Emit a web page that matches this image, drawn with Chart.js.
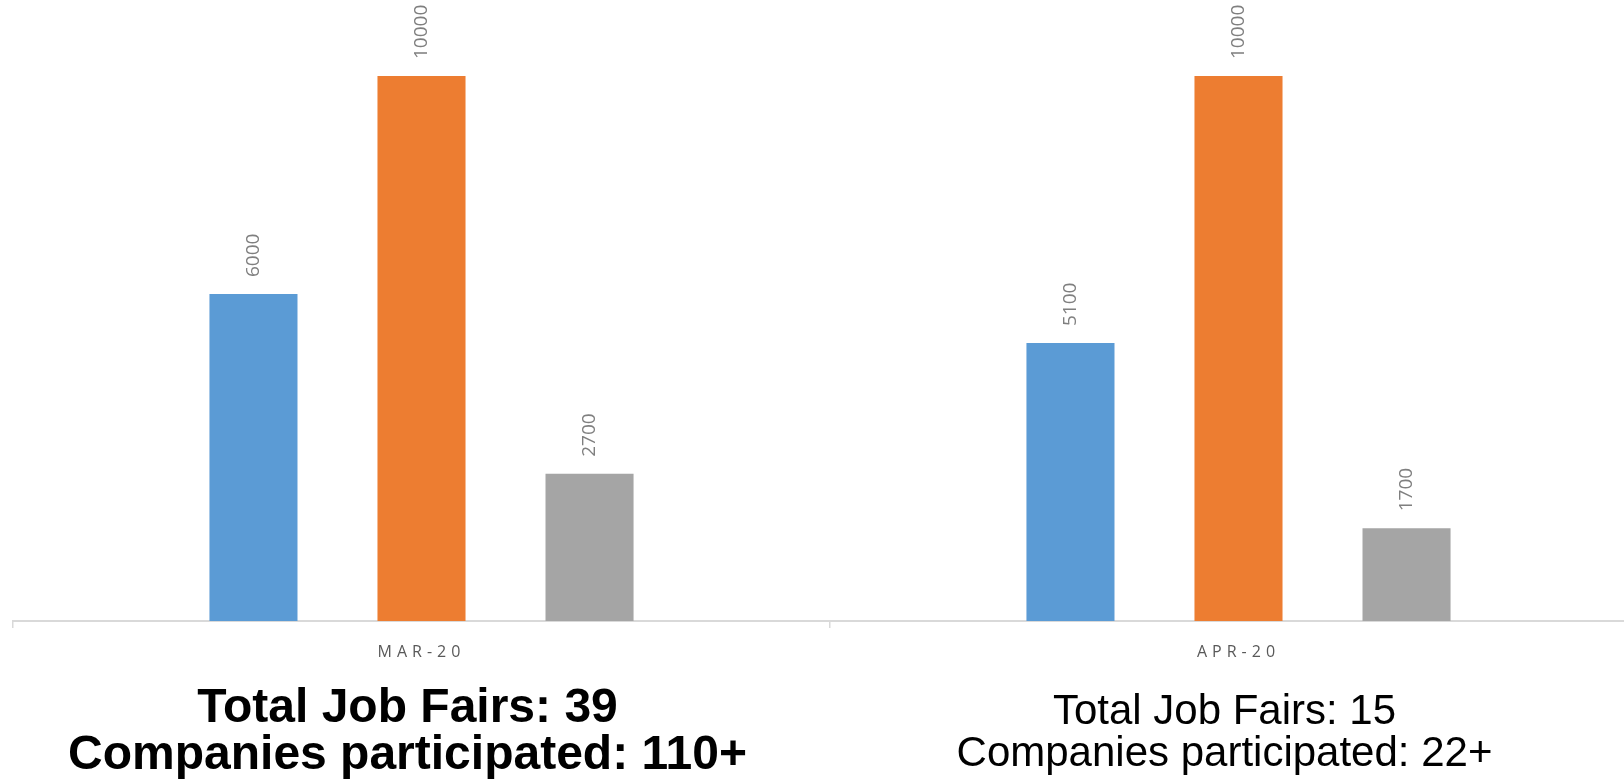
<!DOCTYPE html>
<html>
<head>
<meta charset="utf-8">
<script src="https://cdn.jsdelivr.net/npm/chart.js@4/dist/chart.umd.min.js"></script>
<style>
  html, body { margin: 0; padding: 0; background: #fff; overflow: hidden; }
  #wrap { position: relative; width: 1660px; height: 784px; }
</style>
</head>
<body>
<div id="wrap"><canvas id="jobFairChart"></canvas></div>
<script>
// Months on the x axis
const categories = ['MAR-20', 'APR-20'];

// Three series per month (no legend in the source)
const seriesNames = ['Series 1', 'Series 2', 'Series 3'];
const blueValues = [6000, 5100];
const orangeValues = [10000, 10000];
const grayValues = [2700, 1700];

// Summary lines printed under each month
const noteLines = [
    ['Total Job Fairs: 39', 'Companies participated: 110+'],
    ['Total Job Fairs: 15', 'Companies participated: 22+']
];
const noteBold = [true, false];

// Rotated value labels above each bar
const barLabels = {
    id: 'barLabels',
    afterDatasetsDraw(chart) {
        const ctx = chart.ctx;
        ctx.save();
        ctx.letterSpacing = '0px';
        ctx.font = '19px "Open Sans", sans-serif';
        ctx.fillStyle = '#7f7f7f';
        ctx.textAlign = 'left';
        ctx.textBaseline = 'middle';
        chart.data.datasets.forEach((ds, i) => {
            chart.getDatasetMeta(i).data.forEach((bar, j) => {
                ctx.save();
                ctx.translate(bar.x, bar.y - 17);
                ctx.rotate(-Math.PI / 2);
                ctx.fillText(String(ds.data[j]), 0, 0);
                ctx.restore();
            });
        });
        ctx.restore();
    }
};

// Summary text below the axis
const notes = {
    id: 'notes',
    afterDraw(chart) {
        const ctx = chart.ctx;
        const xScale = chart.scales.x;
        ctx.save();
        ctx.letterSpacing = '0px';
        ctx.fillStyle = '#000';
        ctx.textAlign = 'center';
        ctx.textBaseline = 'alphabetic';
        noteLines.forEach((lines, i) => {
            const cx = xScale.getPixelForValue(i) - 14;
            if (noteBold[i]) {
                ctx.font = 'bold 48px "Liberation Sans", Arial, sans-serif';
                ctx.fillText(lines[0], cx, 722);
                ctx.fillText(lines[1], cx, 769);
            } else {
                ctx.font = '42px "Liberation Sans", Arial, sans-serif';
                ctx.fillText(lines[0], cx, 724);
                ctx.fillText(lines[1], cx, 766);
            }
        });
        ctx.restore();
    }
};

// Spaced-out capitals on the category axis
const tickSpacing = {
    id: 'tickSpacing',
    beforeDraw(chart) {
        chart.ctx.letterSpacing = '5px';
    }
};

const ctx = document.getElementById('jobFairChart');

new Chart(ctx, {
    type: 'bar',
    data: {
        labels: categories,
        datasets: [
            { label: seriesNames[0], data: blueValues, backgroundColor: '#5b9bd5' },
            { label: seriesNames[1], data: orangeValues, backgroundColor: '#ed7d31' },
            { label: seriesNames[2], data: grayValues, backgroundColor: '#a5a5a5' }
        ]
    },
    options: {
        responsive: true,
        maintainAspectRatio: false,
        animation: false,
        categoryPercentage: 0.617,
        barPercentage: 0.524,
        layout: {
            padding: { left: 13, right: 13, top: 21.5, bottom: 0 }
        },
        plugins: {
            legend: { display: false },
            title: { display: false },
            tooltip: { enabled: false }
        },
        scales: {
            x: {
                offset: true,
                grid: {
                    offset: true,
                    drawOnChartArea: false,
                    drawTicks: true,
                    tickLength: 7,
                    color: '#d9d9d9',
                    lineWidth: 1.5
                },
                border: { color: '#d9d9d9', width: 2 },
                ticks: {
                    color: '#595959',
                    font: { family: '"Open Sans", sans-serif', size: 16 },
                    padding: 15
                },
                afterFit(scale) {
                    scale.height = 163;
                }
            },
            y: {
                display: false,
                min: 0,
                max: 11000
            }
        }
    },
    plugins: [tickSpacing, barLabels, notes]
});
</script>
</body>
</html>
